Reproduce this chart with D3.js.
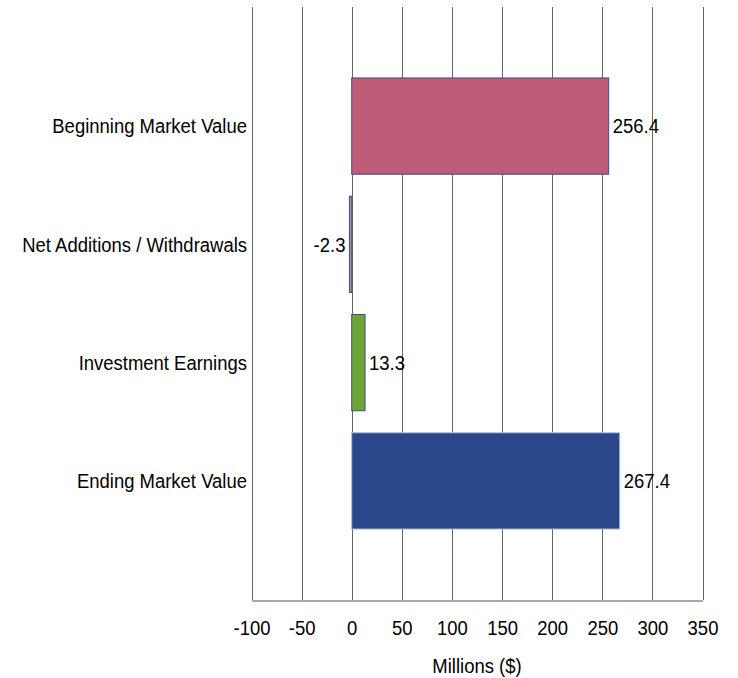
<!DOCTYPE html>
<html>
<head>
<meta charset="utf-8">
<script src="https://cdn.jsdelivr.net/npm/d3@7"></script>
<style>
  body { margin: 0; background: #fff; }
  text { font-family: "Liberation Sans", Arial, sans-serif; fill: #000; }
</style>
</head>
<body>
<svg id="chart" width="738" height="678"></svg>
<script>
// chart data
const categories = ['Beginning Market Value', 'Net Additions / Withdrawals', 'Investment Earnings', 'Ending Market Value'];
const values = [256.4, -2.3, 13.3, 267.4];
const fills = ['#be5b78', '#a89b7d', '#6ea635', '#2b478b'];
const strokes = ['#3e4c8e', '#3e4c8e', '#3e4c8e', '#b4bdd3'];
const xTicks = [-100, -50, 0, 50, 100, 150, 200, 250, 300, 350];

const svg = d3.select('#chart');
const margin = { top: 7, left: 251.5, right: 702.5, bottom: 600 };
const fontSize = '21px';
const squeeze = 0.88; // text in the original is a little condensed

const x = d3.scaleLinear()
  .domain([-100, 350])
  .range([margin.left, margin.right]);

const y = d3.scaleBand()
  .domain(categories)
  .range([margin.top, margin.bottom])
  .paddingInner(0.186)
  .paddingOuter(0.6);

// vertical grid lines
svg.append('g')
  .selectAll('line')
  .data(xTicks)
  .join('line')
  .attr('x1', d => Math.round(x(d)) + 0.5)
  .attr('x2', d => Math.round(x(d)) + 0.5)
  .attr('y1', margin.top)
  .attr('y2', margin.bottom)
  .attr('stroke', '#666')
  .attr('stroke-width', 1);

// bottom axis
const xAxis = svg.append('g')
  .attr('transform', `translate(0,${margin.bottom + 0.5})`)
  .call(d3.axisBottom(x).tickValues(xTicks).tickFormat(d => String(d)).tickSize(0).tickPadding(20));
xAxis.select('.domain').attr('stroke', '#555');
xAxis.selectAll('text')
  .style('font-size', fontSize)
  .style('font-family', '"Liberation Sans", Arial, sans-serif')
  .attr('fill', '#000')
  .attr('transform', `scale(${squeeze},1)`);

// category labels
svg.append('g')
  .selectAll('text')
  .data(categories)
  .join('text')
  .attr('transform', d => `translate(247,${y(d) + y.bandwidth() / 2}) scale(${squeeze},1)`)
  .attr('dy', '0.35em')
  .attr('text-anchor', 'end')
  .style('font-size', fontSize)
  .text(d => d);

// bars
svg.append('g')
  .selectAll('rect')
  .data(values)
  .join('rect')
  .attr('x', d => x(Math.min(0, d)))
  .attr('y', (d, i) => y(categories[i]))
  .attr('width', d => Math.abs(x(d) - x(0)))
  .attr('height', y.bandwidth())
  .attr('fill', (d, i) => fills[i])
  .attr('stroke', (d, i) => strokes[i])
  .attr('stroke-width', 1);

// value labels
svg.append('g')
  .selectAll('text')
  .data(values)
  .join('text')
  .attr('transform', (d, i) => {
    const lx = d < 0 ? x(d) - 4 : x(d) + 4;
    return `translate(${lx},${y(categories[i]) + y.bandwidth() / 2}) scale(${squeeze},1)`;
  })
  .attr('dy', '0.35em')
  .attr('text-anchor', d => d < 0 ? 'end' : 'start')
  .style('font-size', fontSize)
  .text(d => d.toFixed(1));

// axis title
svg.append('text')
  .attr('transform', `translate(${x(125)},673) scale(${squeeze},1)`)
  .attr('text-anchor', 'middle')
  .style('font-size', fontSize)
  .text('Millions ($)');
</script>
</body>
</html>
